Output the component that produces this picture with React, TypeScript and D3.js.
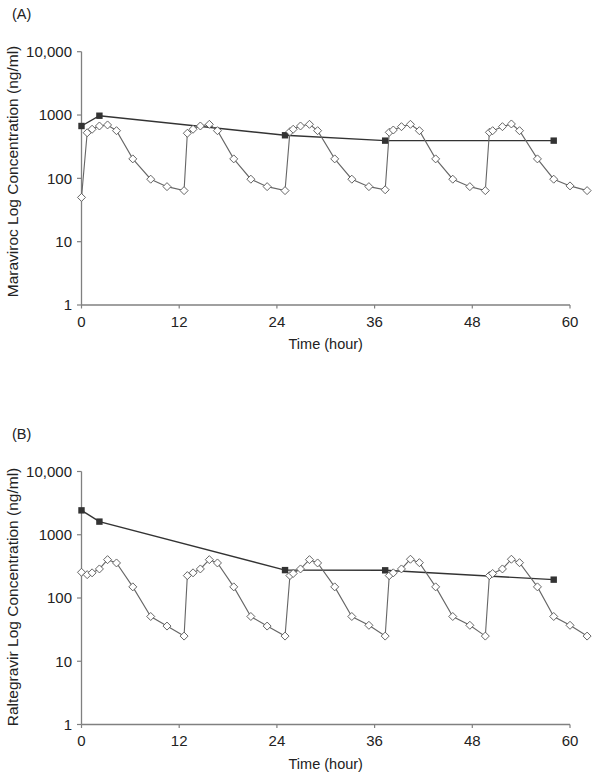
import React from 'react';
import * as d3 from 'd3';

const timeTicks = [0, 12, 24, 36, 48, 60];
const concTicks = [1, 10, 100, 1000, 10000];

const diamondTimes = [
  0, 0.7, 1.3, 2.2, 3.2, 4.3, 6.3, 8.5, 10.5, 12.6,
  13.0, 13.7, 14.6, 15.7, 16.7, 18.7, 20.8, 22.8, 25.0,
  25.6, 26.0, 26.9, 28.0, 29.0, 31.1, 33.2, 35.3, 37.3,
  37.8, 38.3, 39.3, 40.4, 41.5, 43.5, 45.6, 47.7, 49.6,
  50.1, 50.5, 51.7, 52.8, 53.8, 56.0, 58.0, 60.0, 62.1,
];

const maravirocDiamonds = [
  50, 525, 596, 671, 697, 566, 203, 97, 74, 64,
  515, 596, 671, 713, 566, 203, 97, 74, 64,
  546, 596, 671, 713, 566, 203, 97, 74, 66,
  533, 580, 655, 713, 566, 203, 97, 74, 64,
  533, 566, 655, 722, 566, 203, 97, 76, 64,
];

const raltegravirDiamonds = [
  255, 234, 250, 288, 404, 358, 150, 51, 36, 25,
  226, 250, 288, 404, 358, 150, 51, 36, 25,
  226, 244, 288, 404, 358, 150, 51, 37, 25,
  226, 250, 288, 410, 362, 150, 51, 37, 25,
  226, 244, 288, 410, 362, 150, 51, 37, 25,
];

const squareTimes = [0, 2.2, 25.0, 37.3, 58.0];
const maravirocSquares = [671, 975, 479, 394, 394];
const raltegravirSquares = [2430, 1613, 276, 274, 195];

const FONT = '"Liberation Sans", Arial, Helvetica, sans-serif';
const AXIS = '#808080';

const fmt = (v: number) => (v >= 10000 ? d3.format(',')(v) : String(v));

type PanelProps = {
  yTop: number;
  yBottom: number;
  label: string;
  labelY: number;
  title: string;
  titleY: number;
  diamonds: number[];
  squares: number[];
};

function Panel({ yTop, yBottom, label, labelY, title, titleY, diamonds, squares }: PanelProps) {
  const x = d3.scaleLinear().domain([0, 60]).range([81.5, 570]);
  const y = d3.scaleLog().domain([1, 10000]).range([yBottom, yTop]);

  const dPts = diamondTimes.map((t, i) => [x(t), y(diamonds[i])] as [number, number]);
  const sPts = squareTimes.map((t, i) => [x(t), y(squares[i])] as [number, number]);
  const line = d3.line();
  const r = 4;

  return (
    <g>
      <text x={12} y={labelY} fontSize={14.5} fontFamily={FONT} fill="#222">{label}</text>
      {/* axes */}
      <line x1={x(0)} x2={x(0)} y1={y(10000)} y2={y(1)} stroke={AXIS} strokeWidth={1.3} />
      <line x1={x(0)} x2={x(60)} y1={y(1)} y2={y(1)} stroke={AXIS} strokeWidth={1.3} />
      {concTicks.map((v) => (
        <g key={'y' + v}>
          <line x1={x(0) - 4.5} x2={x(0)} y1={y(v)} y2={y(v)} stroke={AXIS} strokeWidth={1.2} />
          <text x={x(0) - 9.5} y={y(v)} dy="0.36em" textAnchor="end" fontSize={15} fontFamily={FONT} fill="#222">
            {fmt(v)}
          </text>
        </g>
      ))}
      {timeTicks.map((t) => (
        <g key={'x' + t}>
          <line x1={x(t)} x2={x(t)} y1={y(1)} y2={y(1) + 3.5} stroke={AXIS} strokeWidth={1.2} />
          <text x={x(t)} y={y(1) + 21.8} textAnchor="middle" fontSize={15} fontFamily={FONT} fill="#222">
            {t}
          </text>
        </g>
      ))}
      <text x={(x(0) + x(60)) / 2} y={y(1) + 44} textAnchor="middle" fontSize={14.5} fontFamily={FONT} fill="#222">
        Time (hour)
      </text>
      <text
        transform={`translate(17.5,${titleY}) rotate(-90)`}
        textAnchor="middle"
        fontSize={15.5}
        fontFamily={FONT}
        fill="#222"
      >
        {title}
      </text>
      {/* squares series */}
      <path d={line(sPts) || ''} fill="none" stroke="#333" strokeWidth={1.4} />
      {sPts.map(([px, py], i) => (
        <rect key={'s' + i} x={px - 3.2} y={py - 3.2} width={6.4} height={6.4} fill="#333" />
      ))}
      {/* diamonds series */}
      <path d={line(dPts) || ''} fill="none" stroke="#666" strokeWidth={1.1} />
      {dPts.map(([px, py], i) => (
        <path
          key={'d' + i}
          d={`M${px},${py - r}L${px + r},${py}L${px},${py + r}L${px - r},${py}Z`}
          fill="#fff"
          stroke="#555"
          strokeWidth={0.9}
        />
      ))}
    </g>
  );
}

export default function App() {
  return (
    <svg
      width={603}
      height={778}
      style={{ position: 'absolute', left: 0, top: 0, background: '#fff' }}
    >
      <rect width={603} height={778} fill="#fff" />
      <Panel
        yTop={51.7}
        yBottom={305}
        label="(A)"
        labelY={18.5}
        title="Maraviroc Log Concentration (ng/ml)"
        titleY={171.5}
        diamonds={maravirocDiamonds}
        squares={maravirocSquares}
      />
      <Panel
        yTop={471.5}
        yBottom={724.5}
        label="(B)"
        labelY={439}
        title="Raltegravir Log Concentration (ng/ml)"
        titleY={597}
        diamonds={raltegravirDiamonds}
        squares={raltegravirSquares}
      />
    </svg>
  );
}
